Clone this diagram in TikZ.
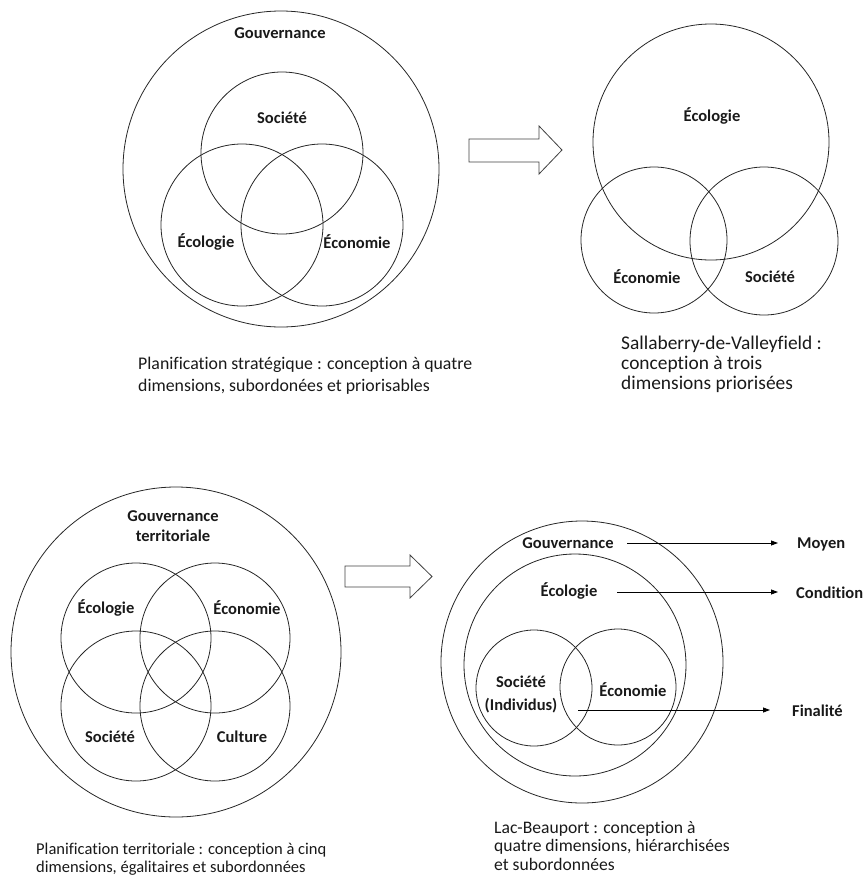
\documentclass[tikz,border=0pt]{standalone}
\usepackage{fontspec}
\setmainfont{Carlito}[Ligatures=NoCommon]
\usetikzlibrary{arrows.meta}
\begin{document}
\begin{tikzpicture}[x=1pt,y=-1pt,
  ring/.style={draw=black!85, circle, inner sep=0pt, line width=0.8pt, minimum size=#1},
  lbl/.style={font=\bfseries\fontsize{16.5}{20}\selectfont, inner sep=0pt, align=center, text=black!90},
  captext/.style={font=\fontsize{17.8}{21.7}\selectfont, anchor=north west, align=left, inner sep=0pt, text=black!90},
  pointer/.style={-{Triangle[length=7pt,width=5pt]}, line width=0.8pt},
  block/.style={draw=black!75, line width=0.8pt, line join=miter}]
\useasboundingbox (0,0) rectangle (867,876);

% --- strategic planning: governance around three overlapping dimensions
\node[ring=316pt] (tlgov) at (281,169) {};
\node[ring=162pt] (tlsoc) at (282,153) {};
\node[ring=162pt] (tleco) at (242,225) {};
\node[ring=162pt] (tlecn) at (322,225) {};
\node[lbl] (tlgovl) at (280,33) {Gouvernance};
\node[lbl] (tlsocl) at (282,118) {Société};
\node[lbl] (tlecol) at (206,242) {Écologie};
\node[lbl] (tlecnl) at (357,242) {Économie};
\node[captext] (tlcap) at (138,357) {Planification stratégique : conception à quatre\\dimensions, subordonées et priorisables};

% --- block arrow, top row
\draw[block] (469,139) -- (539,139) -- (539,126) -- (562,150) -- (539,174) -- (539,162) -- (469,162) -- cycle;

% --- Sallaberry-de-Valleyfield
\node[ring=236pt] (trecol) at (711,142) {};
\node[ring=146pt] (trecn) at (654,240) {};
\node[ring=148pt] (trsoc) at (764,241) {};
\node[lbl] (trecoll) at (712,116) {Écologie};
\node[lbl] (trecnl) at (647,277) {Économie};
\node[lbl] (trsocl) at (770,277) {Société};
\node[captext, font=\fontsize{19.4}{20}\selectfont] (trcap) at (621,336) {Sallaberry-de-Valleyfield :\\conception à trois\\dimensions priorisées};

% --- territorial planning: four equal dimensions
\node[ring=330pt] (blgov) at (176,652) {};
\node[ring=150pt] (bleco) at (136,638) {};
\node[ring=150pt] (blecn) at (215,638) {};
\node[ring=150pt] (blsoc) at (136,706) {};
\node[ring=150pt] (blcul) at (215,706) {};
\node[lbl] (blgovl) at (173,526) {Gouvernance\\territoriale};
\node[lbl] (blecol) at (106,608) {Écologie};
\node[lbl] (blecnl) at (247,608) {Économie};
\node[lbl] (blsocl) at (110,737) {Société};
\node[lbl] (blcull) at (242,737) {Culture};
\node[captext, font=\fontsize{16.5}{17.7}\selectfont] (blcap) at (36,843) {Planification territoriale : conception à cinq\\dimensions, égalitaires et subordonnées};

% --- block arrow, bottom row
\draw[block] (345,566) -- (410,566) -- (410,555) -- (432,576.5) -- (410,598) -- (410,587) -- (345,587) -- cycle;

% --- Lac-Beauport: nested hierarchy
\node[ring=282pt] (brgov) at (582,662) {};
\node[ring=222pt] (breco) at (575,665) {};
\node[ring=116pt] (brsoc) at (534,688) {};
\node[ring=116pt] (brecn) at (618,687) {};
\node[lbl] (brgovl) at (568,543) {Gouvernance};
\node[lbl] (brecol) at (569,591) {Écologie};
\node[lbl, font=\bfseries\fontsize{16.5}{23}\selectfont] (brsocl) at (521,694) {Société\\(Individus)};
\node[lbl] (brecnl) at (633,690) {Économie};
\node[lbl, anchor=west] (moyen) at (797,544) {Moyen};
\node[lbl, anchor=west] (cond) at (796,593) {Condition};
\node[lbl, anchor=west] (fin) at (792,711) {Finalité};
\coordinate (govstart) at (627,543);
\coordinate (ecostart) at (617,592);
\coordinate (finstart) at (578,710);
\draw[pointer] (govstart) -- (govstart -| 778,0);
\draw[pointer] (ecostart) -- (ecostart -| 778,0);
\draw[pointer] (finstart) -- (finstart -| 770,0);
\node[captext, font=\fontsize{17.6}{18.5}\selectfont] (brcap) at (494,821) {Lac-Beauport : conception à\\quatre dimensions, hiérarchisées\\et subordonnées};
\end{tikzpicture}
\end{document}
